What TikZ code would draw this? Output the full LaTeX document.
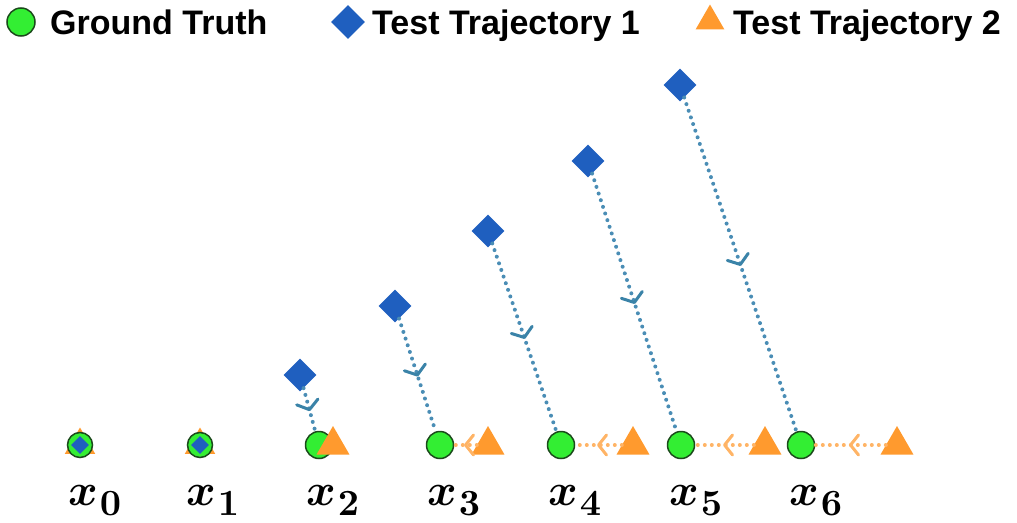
\documentclass[tikz,border=0pt]{standalone}
\usepackage{fontspec}
\setmainfont{Liberation Sans}
\usepackage{bm}
\usepackage{graphicx}
\usetikzlibrary{shapes.geometric,decorations.markings}
\definecolor{gtgreen}{HTML}{33EE33}
\definecolor{gtborder}{HTML}{1B4A1B}
\definecolor{tjblue}{HTML}{1F5FBF}
\definecolor{tjorange}{HTML}{FF9A2E}
\definecolor{lineblue}{HTML}{4A8DB5}
\definecolor{arrowblue}{HTML}{3A83A8}
\definecolor{lineorange}{HTML}{FFB466}
\newcommand{\xlab}[1]{\scalebox{4.5}{$\bm{x}$}\kern2pt\raisebox{-10pt}{\scalebox{3.7}{$\bm{#1}$}}}
\tikzset{
  gt/.style={circle, fill=gtgreen, draw=gtborder, line width=1.5pt, minimum size=27pt, inner sep=0pt},
  tjone/.style={diamond, fill=tjblue, shape aspect=1, minimum width=33pt, minimum height=33pt, inner sep=0pt},
  tjtwo/.style={regular polygon, regular polygon sides=3, fill=tjorange, minimum size=38pt, inner sep=0pt},
  legtext/.style={anchor=base west, inner sep=0pt, font=\fontsize{34}{40}\selectfont\bfseries},
  lab/.style={anchor=base west, inner sep=0pt},
  bluelink/.style={draw=lineblue, line width=4pt, line cap=round, dash pattern=on 0pt off 7pt,
    postaction={decorate, decoration={markings, mark=at position 0.5 with {\draw[solid, draw=arrowblue, line width=3pt, line cap=round, line join=round] (-8pt,11pt) -- (0pt,0pt) -- (-8pt,-11pt);}}}},
  orangelink/.style={draw=lineorange, line width=4pt, line cap=round, dash pattern=on 0pt off 7pt,
    postaction={decorate, decoration={markings, mark=at position 0.5 with {\draw[solid, draw=lineorange, line width=3pt, line cap=round, line join=round] (-8pt,10pt) -- (0pt,0pt) -- (-8pt,-10pt);}}}}
}
\begin{document}
\begin{tikzpicture}[x=1pt,y=-1pt]
\useasboundingbox (0,0) rectangle (1017,522);
% legend
\node[gt, minimum size=28pt] (lg) at (21,22) {};
\node[legtext] (lgt) at (50,34) {Ground Truth};
\node[tjone, minimum width=34pt, minimum height=34pt] (ld) at (348,22) {};
\node[legtext] (ldt) at (372,34) {Test Trajectory 1};
\node[tjtwo, minimum size=33pt] (lt) at (710,21) {};
\node[legtext] (ltt) at (733,34) {Test Trajectory 2};
% coincident points x0, x1
\node[tjtwo, minimum size=35pt] (t0) at (80,445) {};
\node[gt, minimum size=25pt] (g0) at (80,445) {};
\node[tjone, minimum width=18pt, minimum height=18pt] (d0) at (80,445) {};
\node[tjtwo, minimum size=35pt] (t1) at (200,445) {};
\node[gt, minimum size=25pt] (g1) at (200,445) {};
\node[tjone, minimum width=18pt, minimum height=18pt] (d1) at (200,445) {};
% ground truth
\node[gt] (g2) at (319,445) {};
\node[gt] (g3) at (440,445) {};
\node[gt] (g4) at (561,445) {};
\node[gt] (g5) at (681,445) {};
\node[gt] (g6) at (801,445) {};
% trajectory 1
\node[tjone] (d2) at (300,375) {};
\node[tjone] (d3) at (395,306) {};
\node[tjone] (d4) at (488,231) {};
\node[tjone] (d5) at (588,161) {};
\node[tjone] (d6) at (680,85) {};
% trajectory 2
\node[tjtwo] (t2) at (333,445) {};
\node[tjtwo] (t3) at (488,445) {};
\node[tjtwo] (t4) at (633,445) {};
\node[tjtwo] (t5) at (765,445) {};
\node[tjtwo] (t6) at (897,445) {};
% connectors
\draw[bluelink] (d2) -- (g2);
\draw[bluelink] (d3) -- (g3);
\draw[bluelink] (d4) -- (g4);
\draw[bluelink] (d5) -- (g5);
\draw[bluelink] (d6) -- (g6);
\draw[orangelink] (t3) -- (g3);
\draw[orangelink] (t4) -- (g4);
\draw[orangelink] (t5) -- (g5);
\draw[orangelink] (t6) -- (g6);
% labels
\node[lab] (l0) at (68,505) {\xlab{0}};
\node[lab] (l1) at (186,505) {\xlab{1}};
\node[lab] (l2) at (306,505) {\xlab{2}};
\node[lab] (l3) at (427,505) {\xlab{3}};
\node[lab] (l4) at (548,505) {\xlab{4}};
\node[lab] (l5) at (669,505) {\xlab{5}};
\node[lab] (l6) at (789,505) {\xlab{6}};
\end{tikzpicture}
\end{document}
